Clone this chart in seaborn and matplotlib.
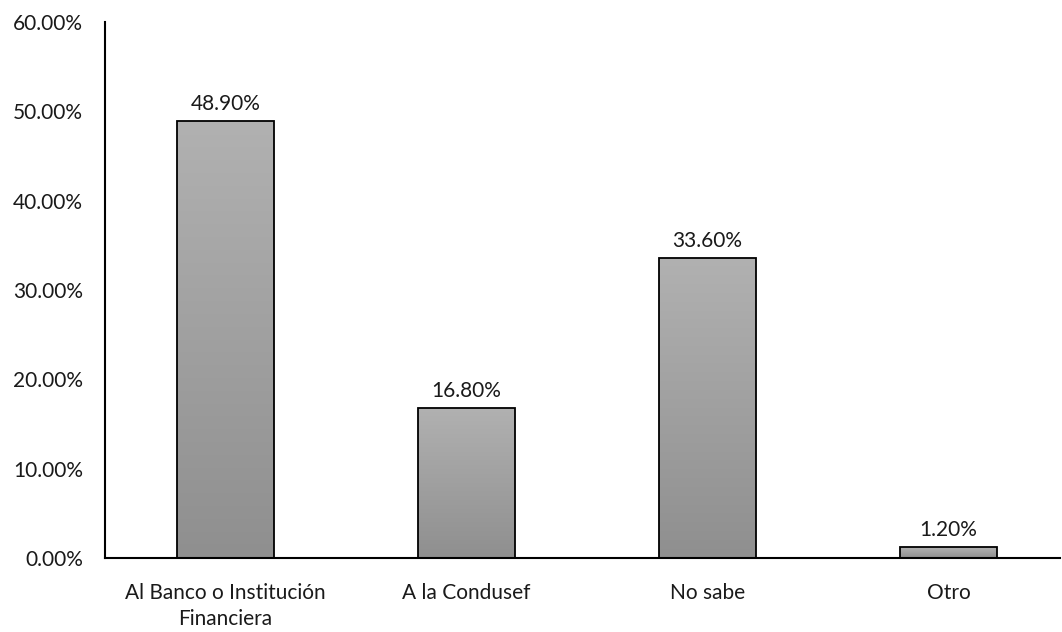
import numpy as np
import pandas as pd
import matplotlib
matplotlib.use("Agg")
import matplotlib.pyplot as plt
from matplotlib.colors import LinearSegmentedColormap
import seaborn as sns

categories = ["Al Banco o Institución\nFinanciera", "A la Condusef", "No sabe", "Otro"]
values = [48.9, 16.8, 33.6, 1.2]
yticks = [0, 10, 20, 30, 40, 50, 60]

sns.set_theme(style="white")
plt.rcParams["font.family"] = ["Lato", "DejaVu Sans"]

FS = 15

df = pd.DataFrame({"categoria": categories, "valor": values})

fig = plt.figure(figsize=(10.62, 6.32), dpi=100)
ax = fig.add_axes([105 / 1062, 1 - 558 / 632, 955 / 1062, (558 - 22) / 632])

sns.barplot(data=df, x="categoria", y="valor", color="#a0a0a0", width=0.40,
            edgecolor="black", linewidth=1.3, ax=ax, zorder=2)

# vertical gray gradient inside each bar
cmap = LinearSegmentedColormap.from_list("barfill", ["#8f8f8f", "#b1b1b1"])
grad = np.linspace(0, 1, 256).reshape(-1, 1)
for patch in ax.patches:
    x0, y0 = patch.get_x(), patch.get_y()
    w, h = patch.get_width(), patch.get_height()
    im = ax.imshow(grad, cmap=cmap, aspect="auto", origin="lower",
                   extent=[x0, x0 + w, y0, y0 + h], zorder=2.5)
    im.set_clip_path(patch)
    patch.set_facecolor("none")
    patch.set_zorder(3)
ax.set_xlim(-0.5, -0.5 + 955 / 241)
ax.set_ylim(0, 60)

for i, v in enumerate(values):
    ax.text(i, v + 0.8, f"{v:.2f}%", ha="center", va="bottom", fontsize=FS, color="#1a1a1a")

ax.set_yticks(yticks)
ax.set_yticklabels([f"{t:.2f}%" for t in yticks], fontsize=FS, color="#1a1a1a")
ax.tick_params(axis="x", labelsize=FS, colors="#1a1a1a", length=0, pad=18)
ax.tick_params(axis="y", length=0, pad=16)
for lbl in ax.get_xticklabels():
    lbl.set_linespacing(1.4)
ax.set_xlabel("")
ax.set_ylabel("")

for side in ["top", "right"]:
    ax.spines[side].set_visible(False)
for side in ["left", "bottom"]:
    ax.spines[side].set_color("black")
    ax.spines[side].set_linewidth(1.5)

fig.savefig("out.png", dpi=100, facecolor="white")
